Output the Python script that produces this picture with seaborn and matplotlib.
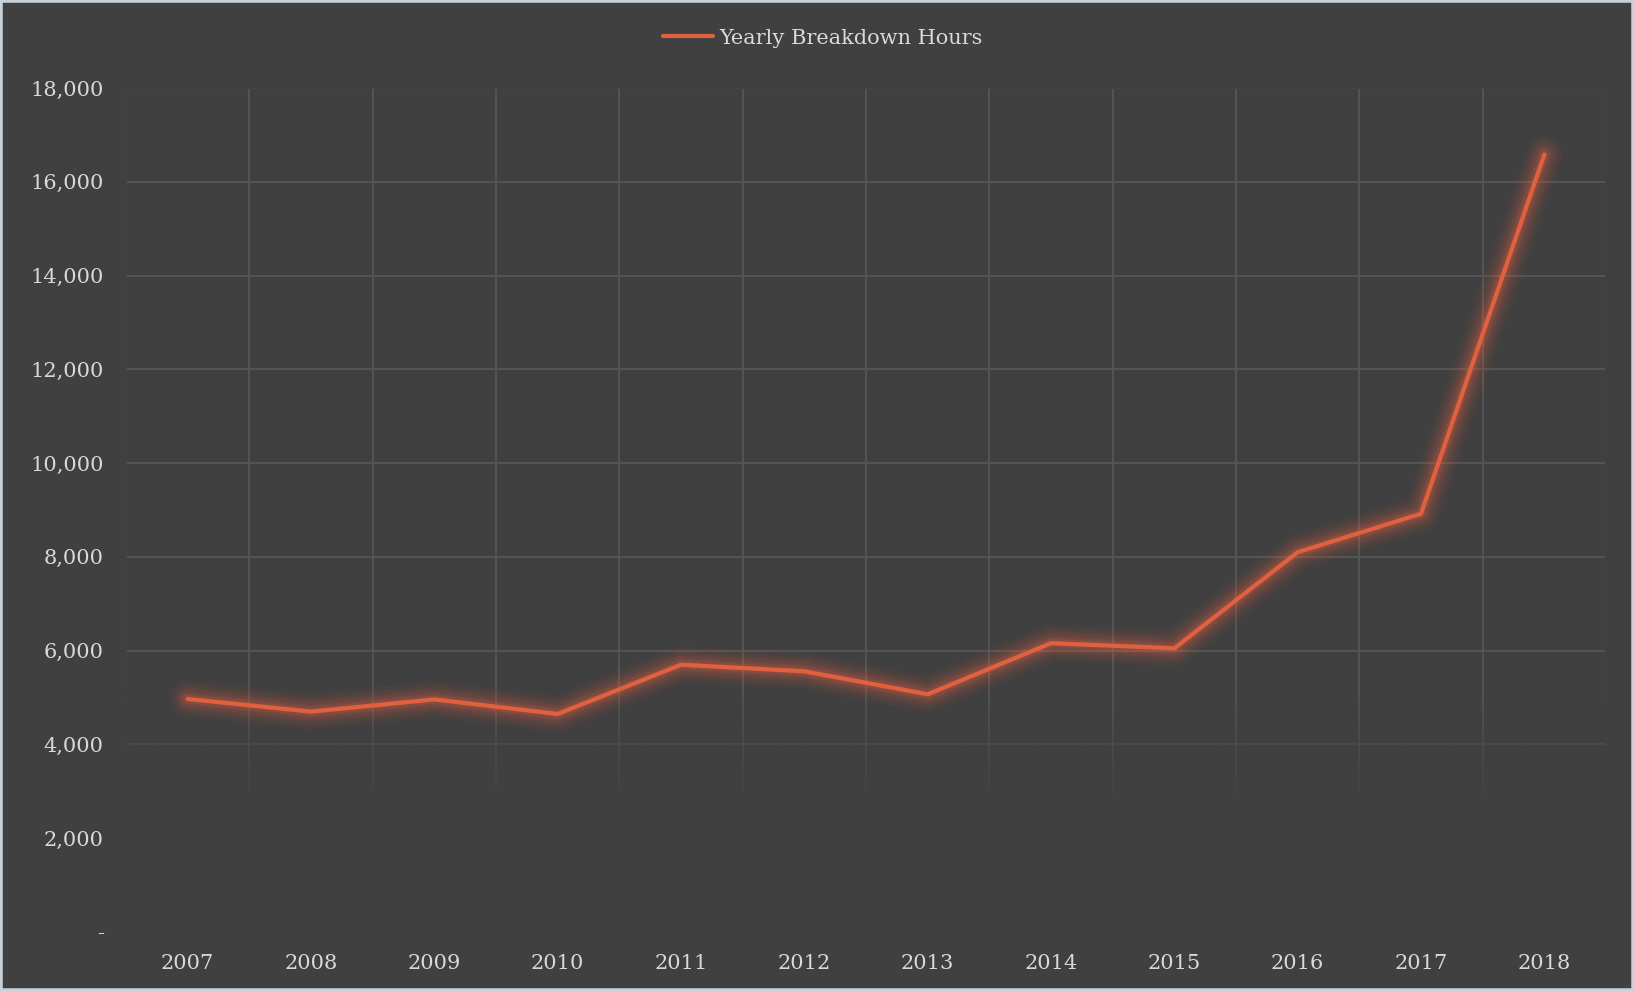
import matplotlib.pyplot as plt
import matplotlib.ticker as mticker
from matplotlib.patches import Rectangle
from matplotlib.colors import to_rgb
import seaborn as sns
import numpy as np
import pandas as pd

years = ['2007', '2008', '2009', '2010', '2011', '2012',
         '2013', '2014', '2015', '2016', '2017', '2018']
hours = [4970, 4700, 4960, 4650, 5700, 5560,
         5070, 6160, 6050, 8100, 8920, 16580]
series_name = 'Yearly Breakdown Hours'

bg = '#404040'
grid_col = '#575757'
txt_col = '#d9d9d9'
line_col = '#e0613f'

sns.set_theme(style='darkgrid', rc={
    'axes.facecolor': bg,
    'figure.facecolor': bg,
    'grid.color': grid_col,
    'grid.linewidth': 1.3,
    'axes.edgecolor': bg,
})
plt.rcParams['font.family'] = ['DejaVu Serif']

df = pd.DataFrame({'pos': np.arange(len(years)), 'hours': hours})

fig = plt.figure(figsize=(16.34, 9.91), dpi=100)
ax = fig.add_axes([126 / 1634, 1 - 932 / 991, (1606 - 126) / 1634, (932 - 88) / 991])

# soft glow around the line
for w, a in [(26, 0.05), (21, 0.06), (17, 0.08), (13, 0.10), (9, 0.13), (6, 0.16)]:
    sns.lineplot(data=df, x='pos', y='hours', ax=ax, color=line_col,
                 linewidth=w, alpha=a, zorder=3, legend=False,
                 solid_capstyle='round', solid_joinstyle='round')
sns.lineplot(data=df, x='pos', y='hours', ax=ax, color=line_col,
             linewidth=3, zorder=4, label=series_name,
             solid_capstyle='round', solid_joinstyle='round')

ax.set_xticks(np.arange(len(years)))
ax.set_xticklabels(years)
ax.set_xticks(np.arange(len(years) + 1) - 0.5, minor=True)
ax.yaxis.set_major_locator(mticker.MultipleLocator(2000))
ax.yaxis.set_major_formatter(mticker.FuncFormatter(
    lambda v, p: '-' if v == 0 else '{:,.0f}'.format(v)))
ax.grid(False)
ax.grid(True, which='minor', axis='x', color=grid_col, linewidth=1.3)
ax.grid(True, which='major', axis='y', color=grid_col, linewidth=1.3)
ax.set_axisbelow(True)
ax.tick_params(axis='both', which='both', length=0, colors=txt_col, labelsize=15)
ax.tick_params(axis='x', pad=16)
ax.tick_params(axis='y', pad=16)
ax.set_xlabel('')
ax.set_ylabel('')

# fade the gridlines out toward the bottom
rgb = to_rgb(bg)
n = 200
ys = np.linspace(0, 6000, n)
alpha = np.clip((5400 - ys) / 2800, 0, 1)
grad = np.zeros((n, 1, 4))
grad[:, 0, :3] = rgb
grad[:, 0, 3] = alpha
ax.imshow(grad, extent=(-0.5, len(years) - 0.5, 0, 6000), origin='lower',
          aspect='auto', zorder=1, interpolation='bilinear')
ax.set_xlim(-0.5, len(years) - 0.5)
ax.set_ylim(0, 18000)

leg = ax.legend(loc='center', bbox_to_anchor=(823 / 1634, 1 - 38 / 991),
                bbox_transform=fig.transFigure, frameon=False, fontsize=15,
                handlelength=2.4, handletextpad=0.3)
for t in leg.get_texts():
    t.set_color(txt_col)

fig.patches.append(Rectangle((0, 0), 1, 1, transform=fig.transFigure,
                             fill=False, edgecolor='#c8d0d8', linewidth=4,
                             zorder=10))

fig.savefig('out.png', dpi=100, facecolor=bg)
